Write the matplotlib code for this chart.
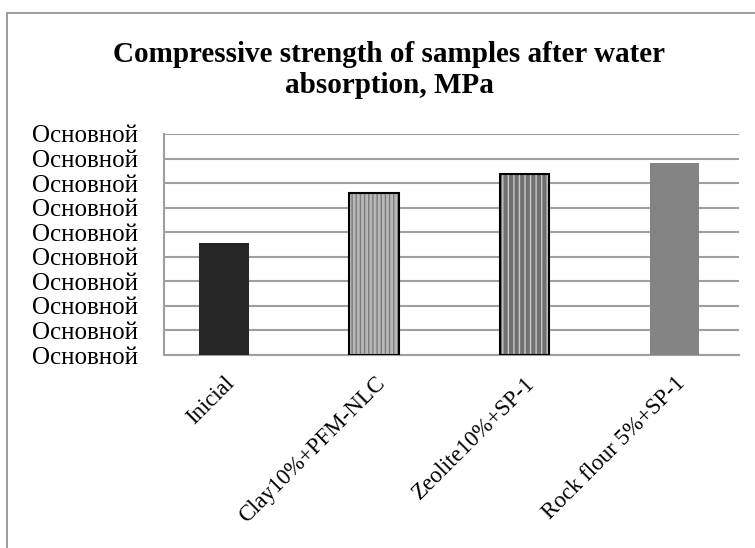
import matplotlib
matplotlib.use("Agg")
import matplotlib.pyplot as plt
from matplotlib.patches import Rectangle

categories = ["Inicial", "Clay10%+PFM-NLC", "Zeolite10%+SP-1", "Rock flour 5%+SP-1"]
values = [4.58, 6.60, 7.39, 7.81]
ytick_values = [0, 1, 2, 3, 4, 5, 6, 7, 8, 9]
ytick_labels = ["Основной"] * 10
title = "Compressive strength of samples after water\nabsorption, MPa"

plt.rcParams['font.family'] = ['Liberation Serif', 'DejaVu Serif']

W, H = 755, 548
fig = plt.figure(figsize=(W / 100, H / 100), dpi=100)
fig.patch.set_facecolor("white")

# outer chart frame (cut off at right and bottom)
fig.add_artist(Rectangle((7 / W, -0.05), 1.2, 1 - 13 / H + 0.05, transform=fig.transFigure,
                         fill=False, edgecolor="#8c8c8c", linewidth=1.2))

ax = fig.add_axes([164 / W, 1 - 355 / H, 575 / W, 221 / H])
x = list(range(len(categories)))
w = 0.33

styles = [
    dict(face="#262626", hatch=None, hcol=None, edge=None),
    dict(face="#b8b8b8", hatch="||||", hcol="#7a7a7a", edge="black"),
    dict(face="#707070", hatch="|||", hcol="#c8c8c8", edge="black"),
    dict(face="#848484", hatch=None, hcol=None, edge=None),
]
for xi, v, st in zip(x, values, styles):
    if st["hatch"]:
        ax.bar(xi, v, width=w, color=st["face"], hatch=st["hatch"], edgecolor=st["hcol"],
               linewidth=0, zorder=3)
        ax.bar(xi, v, width=w, fill=False, edgecolor=st["edge"], linewidth=1.5, zorder=4)
    else:
        ax.bar(xi, v, width=w, color=st["face"], linewidth=0, zorder=3)

ax.set_xlim(-0.40, 3.43)
ax.set_ylim(0, 9)
ax.set_yticks(ytick_values)
ax.set_yticklabels(ytick_labels, fontsize=18)
ax.set_xticks(x)
ax.set_xticklabels(categories, fontsize=16.5, rotation=45, ha="right", rotation_mode="anchor")
ax.tick_params(axis="both", length=0)
ax.tick_params(axis="x", pad=13)
ax.tick_params(axis="y", pad=19)
ax.yaxis.grid(True, color="#9f9f9f", linewidth=1.5, zorder=0)
ax.set_axisbelow(True)
for s in ["top", "right"]:
    ax.spines[s].set_visible(False)
for s in ["left", "bottom"]:
    ax.spines[s].set_color("#9f9f9f")
    ax.spines[s].set_linewidth(1.5)

fig.text(389 / W, 1 - 70 / H, title, ha="center", va="center", fontsize=21,
         fontweight="bold", linespacing=1.2)

fig.savefig("out.png", dpi=100)
